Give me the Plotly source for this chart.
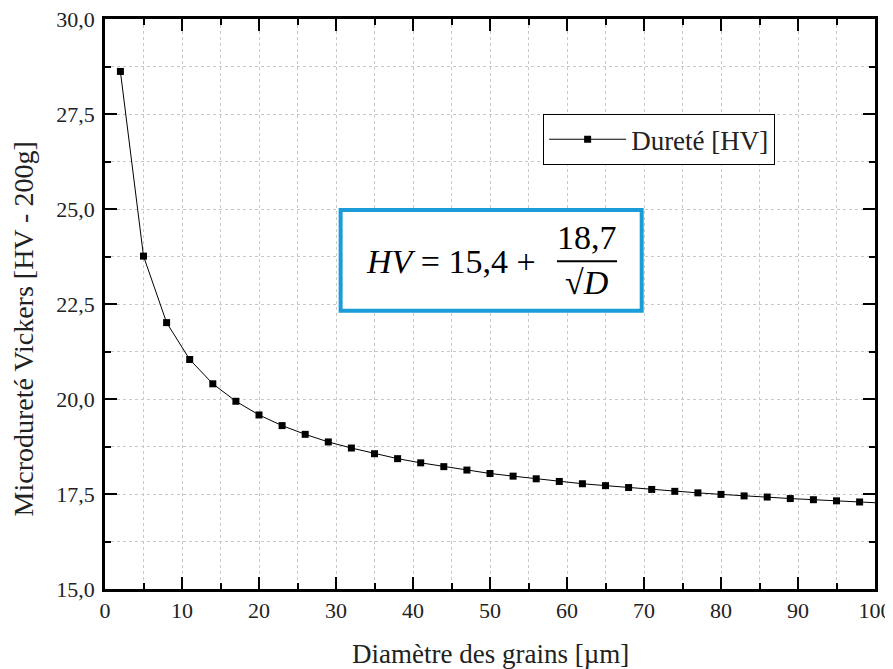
import plotly.graph_objects as go

diametre = [2, 5, 8, 11, 14, 17, 20, 23, 26, 29, 32, 35, 38, 41, 44, 47, 50,
            53, 56, 59, 62, 65, 68, 71, 74, 77, 80, 83, 86, 89, 92, 95, 98]
durete = [28.62, 23.76, 22.01, 21.04, 20.40, 19.94, 19.58, 19.30, 19.07, 18.87,
          18.71, 18.56, 18.43, 18.32, 18.22, 18.13, 18.04, 17.97, 17.90, 17.83,
          17.77, 17.72, 17.67, 17.62, 17.57, 17.53, 17.49, 17.45, 17.42, 17.38,
          17.35, 17.32, 17.29]
tail_x = [98, 100]
tail_y = [17.29, 17.27]

series_name = "Dureté [HV]"
x_title = "Diamètre des grains [µm]"
y_title = "Microdureté Vickers [HV - 200g]"

SERIF = "'Liberation Serif', 'Times New Roman', serif"

fig = go.Figure()
fig.add_trace(go.Scatter(x=tail_x, y=tail_y, mode="lines",
                         line=dict(color="black", width=1), showlegend=False,
                         hoverinfo="skip"))
fig.add_trace(go.Scatter(x=diametre, y=durete, mode="lines+markers", name=series_name,
                         line=dict(color="black", width=1),
                         marker=dict(symbol="square", size=7, color="black")))

grid = "#c8c8c8"
axis_common = dict(
    showline=True, linecolor="black", linewidth=2.5, mirror="allticks",
    ticks="inside", ticklen=12, tickwidth=2, tickcolor="black",
    showgrid=True, gridcolor=grid, griddash="dot", gridwidth=1,
    zeroline=False, automargin=False, ticklabeloverflow="allow",
    tickfont=dict(family=SERIF, size=22, color="#222"),
)

fig.update_xaxes(range=[0, 100], dtick=10, tick0=0,
                 minor=dict(dtick=5, ticks="inside", ticklen=6, tickwidth=2,
                            tickcolor="black", showgrid=True, gridcolor=grid,
                            griddash="dot"),
                 **axis_common)
fig.update_yaxes(range=[15, 30], dtick=2.5, tick0=15, tickformat=".1f",
                 ticklabelstandoff=3,
                 minor=dict(dtick=1.25, ticks="inside", ticklen=6, tickwidth=2,
                            tickcolor="black", showgrid=True, gridcolor=grid,
                            griddash="dot"),
                 **axis_common)

# axis titles
fig.add_annotation(xref="paper", yref="paper", x=0.5, y=-0.114, xanchor="center",
                   yanchor="middle", showarrow=False, text=x_title,
                   font=dict(family=SERIF, size=27, color="#222"))
fig.add_annotation(xref="paper", yref="paper", x=-0.106, y=0.456, xanchor="center",
                   yanchor="middle", showarrow=False, text=y_title, textangle=-90,
                   font=dict(family=SERIF, size=28, color="#222"))

# formula box
fig.add_shape(type="rect", xref="paper", yref="paper",
              x0=0.306, x1=0.697, y0=0.488, y1=0.665,
              line=dict(color="#1b9bd7", width=4), fillcolor="white", layer="above")
fig.add_annotation(xref="paper", yref="paper", x=0.336, y=0.574, xanchor="left",
                   yanchor="middle", showarrow=False,
                   text="<i>HV</i> = 15,4 +", font=dict(family=SERIF, size=34, color="black"))
fig.add_annotation(xref="paper", yref="paper", x=0.626, y=0.617, xanchor="center",
                   yanchor="middle", showarrow=False,
                   text="18,7", font=dict(family=SERIF, size=34, color="black"))
fig.add_annotation(xref="paper", yref="paper", x=0.626, y=0.538, xanchor="center",
                   yanchor="middle", showarrow=False,
                   text="√<i>D</i>", font=dict(family=SERIF, size=34, color="black"))
fig.add_shape(type="line", xref="paper", yref="paper",
              x0=0.587, x1=0.665, y0=0.575, y1=0.575,
              line=dict(color="black", width=2), layer="above")

fig.update_layout(
    width=885, height=661,
    margin=dict(l=97, r=18, t=11, b=80),
    paper_bgcolor="white", plot_bgcolor="white",
    separators=", ",
    font=dict(family=SERIF, color="#222"),
    legend=dict(x=0.569, y=0.833, xanchor="left", yanchor="top",
                bgcolor="white", bordercolor="black", borderwidth=1,
                font=dict(family=SERIF, size=27, color="#222"),
                itemwidth=77),
    showlegend=True,
)

fig.write_html("out.html")
